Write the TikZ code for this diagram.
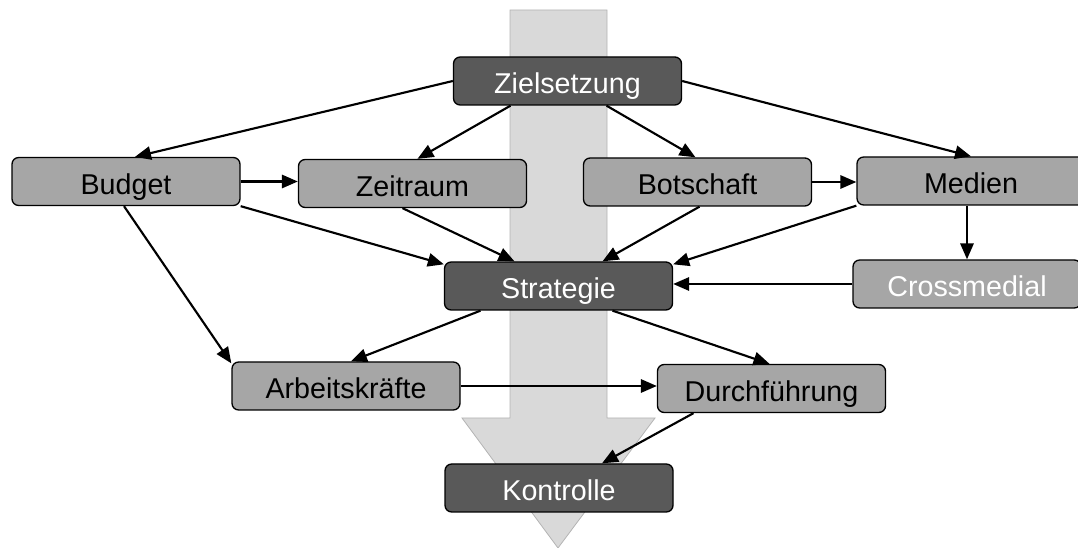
\documentclass[tikz,border=0pt]{standalone}
\usepackage{fontspec}
\setmainfont{Liberation Sans}
\usetikzlibrary{arrows.meta,calc}
\definecolor{darkbox}{HTML}{595959}
\definecolor{midbox}{HTML}{A6A6A6}
\definecolor{flowfill}{HTML}{D9D9D9}
\definecolor{flowline}{HTML}{B4B4B4}
\tikzset{
  box/.style={draw=black, line width=1pt, rounded corners=5pt,
    minimum width=171pt, minimum height=36pt, inner sep=0pt,
    text height=20.5pt, text depth=1.5pt,
    font=\fontsize{21.5}{25}\selectfont},
  darkstep/.style={box, fill=darkbox, text=white},
  midstep/.style={box, fill=midbox, text=black},
  palestep/.style={box, fill=midbox, text=white},
  conn/.style={line width=1.6pt, -{Triangle[length=12pt,width=10pt]}}
}
\begin{document}
\begin{tikzpicture}[x=0.75pt,y=-0.75pt]
\useasboundingbox (0,0) rectangle (1078,548);
\clip (0,0) rectangle (1078,548);
% broad downward arrow behind the diagram
\filldraw[fill=flowfill, draw=flowline, line width=0.6pt]
  (510,10) -- (607,10) -- (607,418) -- (655,418) -- (558,548)
  -- (462,418) -- (510,418) -- cycle;

% steps
\node[darkstep] (ziel)   at (567.5,81)  {Zielsetzung};
\node[midstep]  (budget) at (126,181.5) {Budget};
\node[midstep]  (zeit)   at (412.5,183.5) {Zeitraum};
\node[midstep]  (bot)    at (697.5,182) {Botschaft};
\node[midstep]  (med)    at (971,181)   {Medien};
\node[darkstep] (strat)  at (558.5,286) {Strategie};
\node[palestep] (cross)  at (967,284)   {Crossmedial};
\node[midstep]  (arb)    at (346,386)   {Arbeitskräfte};
\node[midstep]  (durch)  at (771.5,388.5) {Durchführung};
\node[darkstep] (kon)    at (559,488)   {Kontrolle};

% connectors
\draw[conn] (ziel.west) -- ($(budget.north)+(9,0)$);
\draw[conn] ($(ziel.south)+(-57,0)$) -- ($(zeit.north)+(5,0)$);
\draw[conn] ($(ziel.south)+(39,0)$) -- ($(bot.north)+(-2,0)$);
\draw[conn] (ziel.east) -- (med.north);
\draw[conn] (budget.east) -- (budget.east -| zeit.west);
\draw[conn] (bot.east) -- (bot.east -| med.west);
\draw[conn] (budget.south east) -- ($(strat.north west)+(0,3)$);
\draw[conn] ($(zeit.south)+(-10,0)$) -- ($(strat.north)+(-44,0)$);
\draw[conn] ($(bot.south)+(2,0)$) -- ($(strat.north)+(44,0)$);
\draw[conn] (med.south west) -- ($(strat.north east)+(0,3)$);
\draw[conn] (cross.north |- med.south) -- (cross.north);
\draw[conn] (cross.west) -- (cross.west -| strat.east);
\draw[conn] ($(budget.south)+(-2,0)$) -- ($(arb.north west)+(0,2)$);
\draw[conn] ($(strat.south)+(-78,0)$) -- ($(arb.north)+(5,0)$);
\draw[conn] ($(strat.south)+(54,0)$) -- ($(durch.north)+(-2,0)$);
\draw[conn] (arb.east) -- (arb.east -| durch.west);
\draw[conn] ($(durch.south)+(-78,0)$) -- ($(kon.north)+(43,0)$);
\end{tikzpicture}
\end{document}
